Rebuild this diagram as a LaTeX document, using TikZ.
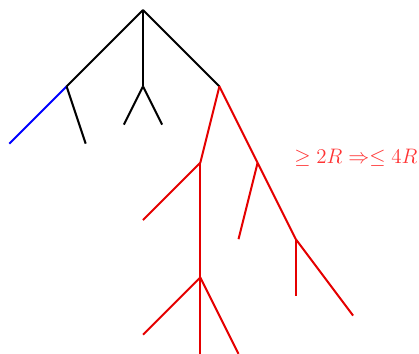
\documentclass[tikz,border=0pt]{standalone}
\begin{document}
\begin{tikzpicture}[scale=1.34,
    edge/.style={line width=1.5pt},
    cut/.style={edge,red!90!black}]
  \useasboundingbox (-2.808,0.196) rectangle (5.42,-6.75);
  % upper levels of the tree
  \coordinate (r) at (0,0);
  \coordinate (a) at (-1.5,-1.5);
  \coordinate (b) at (0,-1.5);
  \coordinate (c) at (1.5,-1.5);
  \coordinate (a1) at (-2.625,-2.625);
  \coordinate (a2) at (-1.125,-2.625);
  \coordinate (b1) at (-0.375,-2.25);
  \coordinate (b2) at (0.375,-2.25);
  \foreach \x in {a,b,c}
    \draw[edge] (r) -- (\x);
  \draw[edge,blue] (a) -- (a1);
  \draw[edge] (a) -- (a2);
  \draw[edge] (b) -- (b1);
  \draw[edge] (b) -- (b2);
  % red subtree below c
  \coordinate (c1) at (1.125,-3);
  \coordinate (c2) at (2.25,-3);
  \coordinate (c11) at (0,-4.125);
  \coordinate (c12) at (1.125,-5.25);
  \coordinate (c121) at (0,-6.375);
  \coordinate (c122) at (1.125,-6.75);
  \coordinate (c123) at (1.875,-6.75);
  \coordinate (c21) at (1.875,-4.5);
  \coordinate (c22) at (3,-4.5);
  \coordinate (c221) at (3,-5.625);
  \coordinate (c222) at (4.125,-6);
  \draw[cut] (c) -- (c1);
  \draw[cut] (c) -- (c2);
  \draw[cut] (c1) -- (c11);
  \draw[cut] (c1) -- (c12);
  \draw[cut] (c12) -- (c121);
  \draw[cut] (c12) -- (c122);
  \draw[cut] (c12) -- (c123);
  \draw[cut] (c2) -- (c21);
  \draw[cut] (c2) -- (c22);
  \draw[cut] (c22) -- (c221);
  \draw[cut] (c22) -- (c222);
  \node[red!80,scale=1.09] (bound) at (4.18,-2.9) {\Large $\geq 2R \Rightarrow \leq 4R$};
\end{tikzpicture}
\end{document}
